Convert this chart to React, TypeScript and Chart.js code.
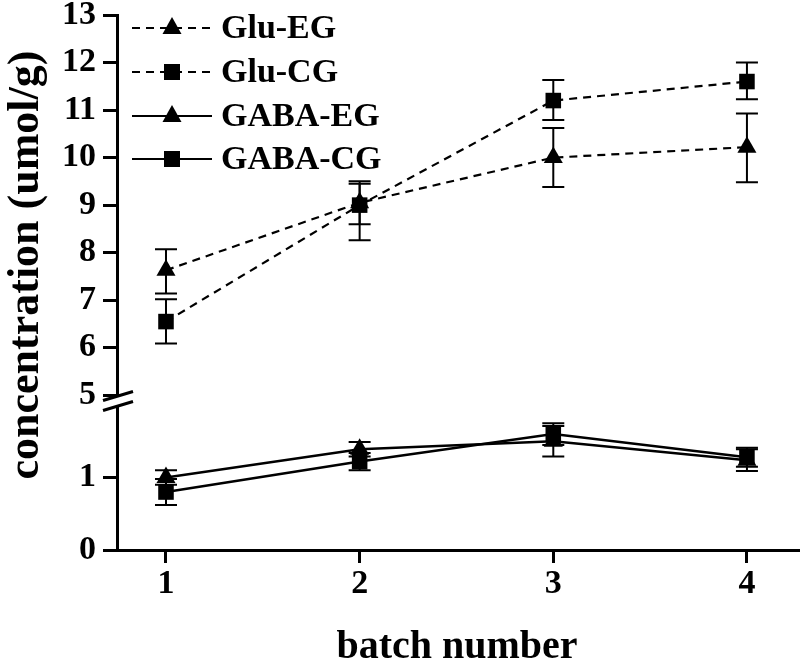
import React, { useEffect, useRef } from 'react';
import { Chart, registerables } from 'chart.js';

Chart.register(...registerables);

// ---- data ----
const batches = [1, 2, 3, 4];
const xTickValues = [1, 2, 3, 4];
const upperTickValues = [5, 6, 7, 8, 9, 10, 11, 12, 13];
const lowerTickValues = [0, 1];
const seriesNames = ['Glu-EG', 'Glu-CG', 'GABA-EG', 'GABA-CG'];

const gluEG = [7.63, 9.05, 10.0, 10.22];
const gluEGErrUp = [0.44, 0.45, 0.62, 0.71];
const gluEGErrDown = [0.49, 0.45, 0.62, 0.74];

const gluCG = [6.55, 9.0, 11.2, 11.6];
const gluCGErrUp = [0.47, 0.45, 0.43, 0.4];
const gluCGErrDown = [0.46, 0.74, 0.41, 0.37];

const gabaEG = [1.0, 1.39, 1.5, 1.24];
const gabaEGErr = [0.1, 0.1, 0.21, 0.15];

const gabaCG = [0.8, 1.22, 1.6, 1.28];
const gabaCGErr = [0.18, 0.12, 0.15, 0.13];

const FONT = '"Liberation Serif", "Times New Roman", serif';

const errorSets = [
  { up: gluEGErrUp, down: gluEGErrDown },
  { up: gluCGErrUp, down: gluCGErrDown },
  { up: gabaEGErr, down: gabaEGErr },
  { up: gabaCGErr, down: gabaCGErr },
];

const toPoints = (vals: number[]) => batches.map((b, i) => ({ x: b, y: vals[i] }));

const errorBarPlugin = {
  id: 'errorBars',
  afterDatasetsDraw(chart: any) {
    const ctx = chart.ctx;
    const xs = chart.scales.x;
    ctx.save();
    ctx.strokeStyle = '#000';
    ctx.lineWidth = 2;
    chart.data.datasets.forEach((ds: any, di: number) => {
      const ys = chart.scales[ds.yAxisID];
      const e = errorSets[di];
      ds.data.forEach((p: any, i: number) => {
        const px = xs.getPixelForValue(p.x);
        const top = ys.getPixelForValue(p.y + e.up[i]);
        const bot = ys.getPixelForValue(p.y - e.down[i]);
        ctx.beginPath();
        ctx.moveTo(px, top);
        ctx.lineTo(px, bot);
        ctx.moveTo(px - 11, top);
        ctx.lineTo(px + 11, top);
        ctx.moveTo(px - 11, bot);
        ctx.lineTo(px + 11, bot);
        ctx.stroke();
      });
    });
    ctx.restore();
  },
};

const drawMarker = (ctx: any, style: string, x: number, y: number) => {
  ctx.beginPath();
  if (style === 'triangle') {
    ctx.moveTo(x, y - 11);
    ctx.lineTo(x + 9.5, y + 6);
    ctx.lineTo(x - 9.5, y + 6);
    ctx.closePath();
  } else {
    ctx.rect(x - 8, y - 8, 16, 16);
  }
  ctx.fill();
};

const decorPlugin = {
  id: 'decor',
  afterDraw(chart: any) {
    const ctx = chart.ctx;
    const top = chart.scales.yTop;
    const x0 = chart.chartArea.left;
    ctx.save();
    // axis break
    const c = top.bottom + 1;
    ctx.fillStyle = '#fff';
    ctx.beginPath();
    ctx.moveTo(x0 - 3, c - 3);
    ctx.lineTo(x0 + 3, c - 5);
    ctx.lineTo(x0 + 3, c + 4);
    ctx.lineTo(x0 - 3, c + 6);
    ctx.closePath();
    ctx.fill();
    ctx.strokeStyle = '#000';
    ctx.lineWidth = 3;
    ctx.beginPath();
    ctx.moveTo(x0 - 14, c - 0.5);
    ctx.lineTo(x0 + 16, c - 9.5);
    ctx.moveTo(x0 - 14, c + 9.5);
    ctx.lineTo(x0 + 16, c + 0.5);
    ctx.stroke();

    // legend
    const rows = [28, 72, 116, 159];
    const styles = ['triangle', 'rect', 'triangle', 'rect'];
    ctx.fillStyle = '#000';
    ctx.lineWidth = 2;
    ctx.font = `bold 34px ${FONT}`;
    ctx.textBaseline = 'middle';
    ctx.textAlign = 'left';
    rows.forEach((y, i) => {
      ctx.setLineDash(i < 2 ? [8, 6] : []);
      ctx.beginPath();
      ctx.moveTo(132, y);
      ctx.lineTo(212, y);
      ctx.stroke();
      ctx.setLineDash([]);
      drawMarker(ctx, styles[i], 172, y);
      ctx.fillText(seriesNames[i], 221, y + 1);
    });

    // titles
    ctx.font = `bold 40px ${FONT}`;
    ctx.textAlign = 'center';
    ctx.textBaseline = 'alphabetic';
    ctx.fillText('batch number', 457, 658);
    ctx.save();
    ctx.translate(38, 265);
    ctx.rotate(-Math.PI / 2);
    ctx.font = `bold 44px ${FONT}`;
    ctx.fillText('concentration (umol/g)', 0, 0);
    ctx.restore();
    ctx.restore();
  },
};

const fixY = (w: number) => (scale: any) => {
  scale.width = w;
  scale.paddingTop = 0;
  scale.paddingBottom = 0;
};

export default function App() {
  const ref = useRef<HTMLCanvasElement>(null);
  useEffect(() => {
    document.body.style.margin = '0';
    const tickFont = { family: FONT, size: 34, weight: 'bold' as const };
    const axisCommon = {
      border: { display: true, color: '#000', width: 3 },
      grid: { drawOnChartArea: false, drawTicks: true, tickLength: 14, color: '#000', lineWidth: 3 },
      ticks: { color: '#000', font: tickFont, padding: 7, autoSkip: false, maxRotation: 0 },
    };
    const chart = new Chart(ref.current as HTMLCanvasElement, {
      type: 'line',
      data: {
        datasets: [
          {
            label: seriesNames[0], data: toPoints(gluEG), yAxisID: 'yTop',
            borderColor: '#000', backgroundColor: '#000', borderWidth: 2.2, borderDash: [8, 6],
            pointStyle: 'triangle', pointRadius: 11, pointBorderWidth: 0,
          },
          {
            label: seriesNames[1], data: toPoints(gluCG), yAxisID: 'yTop',
            borderColor: '#000', backgroundColor: '#000', borderWidth: 2.2, borderDash: [8, 6],
            pointStyle: 'rect', pointRadius: 11, pointBorderWidth: 0,
          },
          {
            label: seriesNames[2], data: toPoints(gabaEG), yAxisID: 'yBot',
            borderColor: '#000', backgroundColor: '#000', borderWidth: 2.5,
            pointStyle: 'triangle', pointRadius: 11, pointBorderWidth: 0,
          },
          {
            label: seriesNames[3], data: toPoints(gabaCG), yAxisID: 'yBot',
            borderColor: '#000', backgroundColor: '#000', borderWidth: 2.5,
            pointStyle: 'rect', pointRadius: 11, pointBorderWidth: 0,
          },
        ],
      },
      options: {
        animation: false,
        responsive: false,
        maintainAspectRatio: false,
        layout: { autoPadding: false, padding: { top: 15, right: 0, left: 0, bottom: 0 } },
        plugins: { legend: { display: false }, tooltip: { enabled: false } },
        scales: {
          x: {
            type: 'linear',
            min: 0.747,
            max: 4.274,
            ...axisCommon,
            grid: { ...axisCommon.grid, tickLength: 13 },
            ticks: { ...axisCommon.ticks, padding: 1 },
            afterBuildTicks: (s: any) => { s.ticks = xTickValues.map((v) => ({ value: v })); },
            afterFit: (s: any) => { s.height = 115; s.paddingLeft = 0; s.paddingRight = 0; },
          },
          yBot: {
            type: 'linear',
            position: 'left',
            stack: 'y',
            stackWeight: 150,
            min: 0,
            max: 2.07,
            ...axisCommon,
            afterBuildTicks: (s: any) => { s.ticks = lowerTickValues.map((v) => ({ value: v })); },
            afterFit: fixY(117),
          },
          yTop: {
            type: 'linear',
            position: 'left',
            stack: 'y',
            stackWeight: 385,
            min: 4.9,
            max: 13,
            ...axisCommon,
            afterBuildTicks: (s: any) => { s.ticks = upperTickValues.map((v) => ({ value: v })); },
            afterFit: fixY(117),
          },
        },
      } as any,
      plugins: [errorBarPlugin, decorPlugin],
    });
    return () => chart.destroy();
  }, []);
  return (
    <div style={{ width: 800, height: 665, background: '#fff' }}>
      <canvas ref={ref} width={800} height={665} style={{ display: 'block' }} />
    </div>
  );
}
